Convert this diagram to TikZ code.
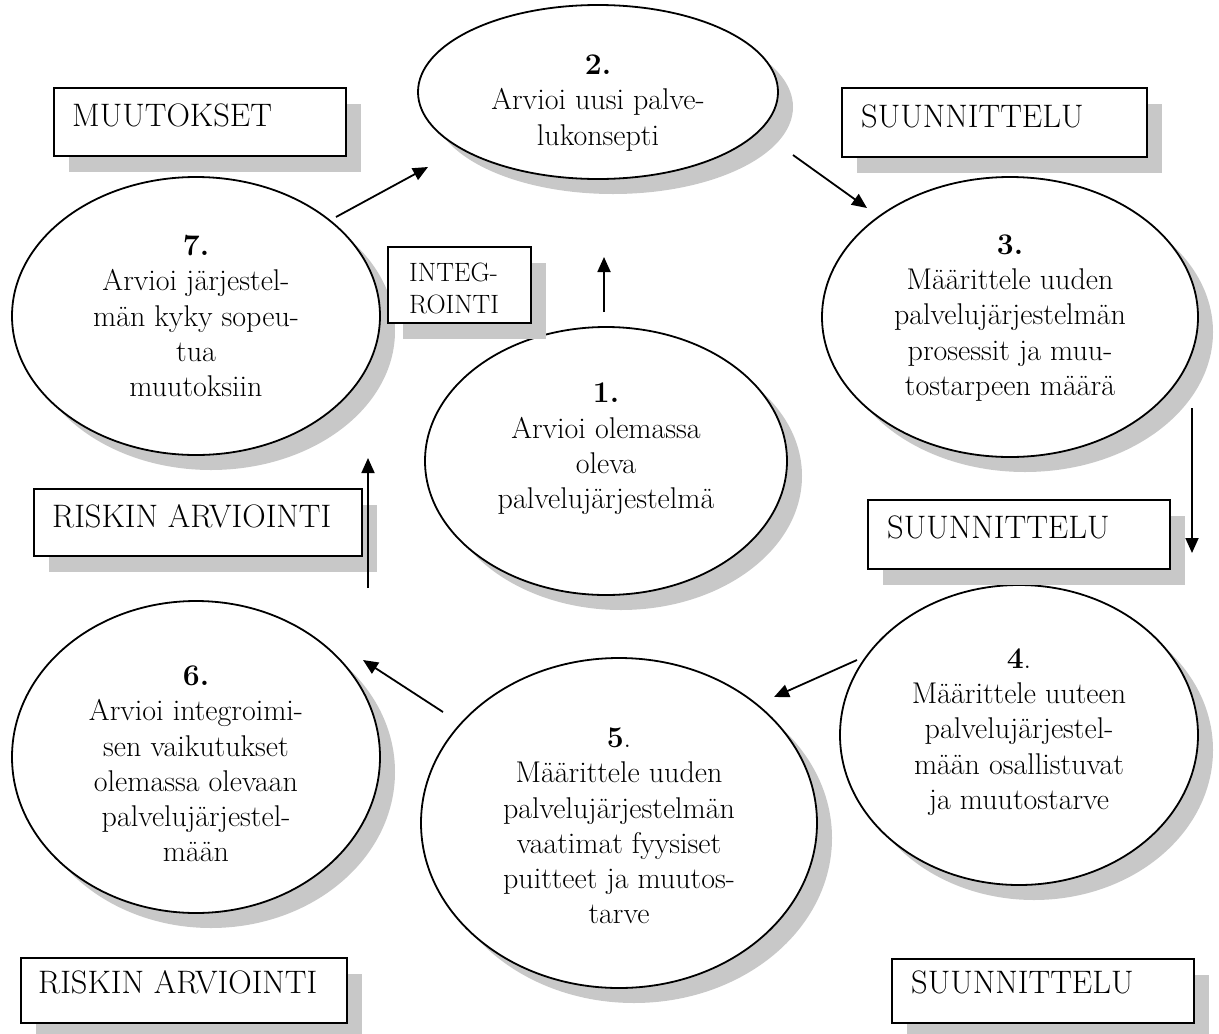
\documentclass[tikz,border=0pt]{standalone}
\usepackage{fontspec}
\usetikzlibrary{arrows.meta,shapes.geometric,shadows}
\definecolor{shadowgrey}{RGB}{200,200,200}
\tikzset{
  stage/.style={ellipse, draw=black, line width=1.8pt, fill=white, inner sep=0pt,
    drop shadow={shadow xshift=15pt, shadow yshift=-15pt, fill=shadowgrey, opacity=1}},
  tag/.style={rectangle, draw=black, line width=2.2pt, fill=white, inner sep=0pt, anchor=north west,
    drop shadow={shadow xshift=15pt, shadow yshift=-16pt, fill=shadowgrey, opacity=1}},
  stagetext/.style={align=center, inner sep=0pt, font=\fontsize{30}{35.3}\selectfont},
  tagtext/.style={inner sep=0pt, anchor=base west, font=\fontsize{32.5}{38}\selectfont},
  flow/.style={line width=1.8pt, -{Triangle[length=15pt,width=13pt]}},
}
\begin{document}
\begin{tikzpicture}[x=1pt,y=-1pt]
\useasboundingbox (0,0) rectangle (1219,1034);
\clip (0,0) rectangle (1219,1034);

% process stages
\node[stage, minimum width=360pt, minimum height=174pt] (e2) at (598,92) {};
\node[stage, minimum width=368pt, minimum height=278pt] (e7) at (196,316) {};
\node[stage, minimum width=376pt, minimum height=280pt] (e3) at (1010,317) {};
\node[stage, minimum width=362pt, minimum height=268pt] (e1) at (606,461) {};
\node[stage, minimum width=368pt, minimum height=312pt] (e6) at (196,757) {};
\node[stage, minimum width=396pt, minimum height=330pt] (e5) at (619,823) {};
\node[stage, minimum width=358pt, minimum height=300pt] (e4) at (1019,735) {};

\node[stagetext] (t2) at (598,103) {\textbf{2.}\\Arvioi uusi palve-\\lukonsepti};
\node[stagetext] (t7) at (196,316) {\textbf{7.}\\Arvioi järjestel-\\män kyky sopeu-\\tua\\muutoksiin};
\node[stagetext] (t3) at (1010,318) {\textbf{3.}\\Määrittele uuden\\palvelujärjestelmän\\prosessit ja muu-\\tostarpeen määrä};
\node[stagetext] (t1) at (606,449) {\textbf{1.}\\Arvioi olemassa\\oleva\\palvelujärjestelmä};
\node[stagetext] (t6) at (196,764) {\textbf{6.}\\Arvioi integroimi-\\sen vaikutukset\\olemassa olevaan\\palvelujärjestel-\\mään};
\node[stagetext] (t5) at (619,826) {\textbf{5}.\\Määrittele uuden\\palvelujärjestelmän\\vaatimat fyysiset\\puitteet ja muutos-\\tarve};
\node[stagetext] (t4) at (1019,732) {\textbf{4}.\\Määrittele uuteen\\palvelujärjestel-\\mään osallistuvat\\ja muutostarve};

% phase labels
\node[tag, minimum width=292pt, minimum height=68pt] (b1) at (53,87) {};
\node[tagtext] (b1t) at (72,126) {MUUTOKSET};
\node[tag, minimum width=305pt, minimum height=69pt] (b2) at (841,87) {};
\node[tagtext] (b2t) at (861,127) {SUUNNITTELU};
\node[tag, minimum width=143pt, minimum height=76pt] (b3) at (387,246) {};
\node[inner sep=0pt, anchor=north west, align=left, font=\fontsize{26.5}{32}\selectfont] (b3t) at (409,263) {INTEG-\\ROINTI};
\node[tag, minimum width=328pt, minimum height=67pt] (b4) at (33,488) {};
\node[tagtext] (b4t) at (52,527) {RISKIN ARVIOINTI};
\node[tag, minimum width=302pt, minimum height=69pt] (b5) at (867,499) {};
\node[tagtext] (b5t) at (887,538) {SUUNNITTELU};
\node[tag, minimum width=326pt, minimum height=65pt] (b6) at (20,957) {};
\node[tagtext] (b6t) at (38,993) {RISKIN ARVIOINTI};
\node[tag, minimum width=302pt, minimum height=64pt] (b7) at (891,958) {};
\node[tagtext] (b7t) at (911,993) {SUUNNITTELU};

% flow between stages
\coordinate (a72s) at (336,217);  \coordinate (a72e) at (428,167);
\coordinate (a23s) at (793,155);  \coordinate (a23e) at (867,208);
\coordinate (a12s) at (604,312);  \coordinate (a12e) at (604,257);
\coordinate (a34s) at (1192,408); \coordinate (a34e) at (1192,553);
\coordinate (a45s) at (857,660);  \coordinate (a45e) at (774,697);
\coordinate (a56s) at (443,712);  \coordinate (a56e) at (363,660);
\coordinate (a67s) at (368,588);  \coordinate (a67e) at (368,458);

\draw[flow] (a72s) -- (a72e);
\draw[flow] (a23s) -- (a23e);
\draw[flow] (a12s) -- (a12e);
\draw[flow] (a34s) -- (a34e);
\draw[flow] (a45s) -- (a45e);
\draw[flow] (a56s) -- (a56e);
\draw[flow] (a67s) -- (a67e);
\end{tikzpicture}
\end{document}
